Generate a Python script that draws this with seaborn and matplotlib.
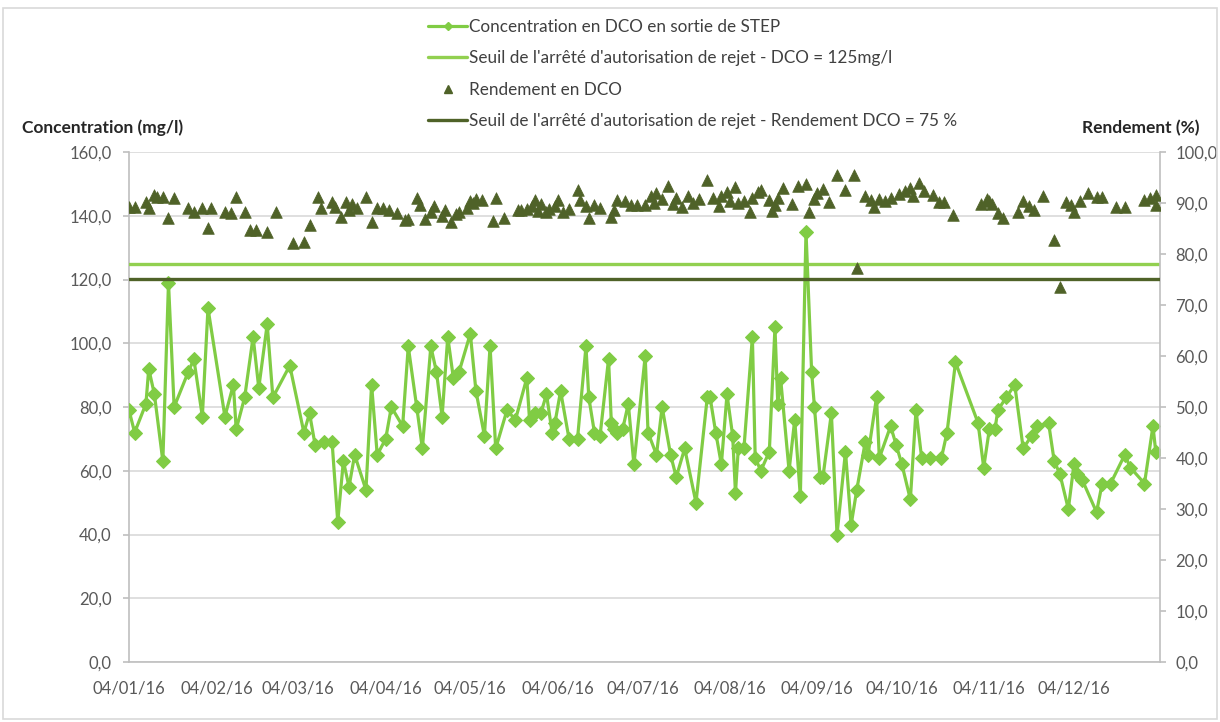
import matplotlib
matplotlib.use("Agg")
import matplotlib.pyplot as plt
import matplotlib.dates as mdates
from matplotlib.lines import Line2D
from matplotlib.patches import Rectangle
from matplotlib.ticker import FuncFormatter, MultipleLocator
import numpy as np
import pandas as pd
import seaborn as sns

# ---------------- data ----------------
start_date = "2016-01-04"
# concentration DCO (mg/l) : day offset from start_date, value
conc_days = [0, 2, 6, 7, 9, 12, 14, 16, 21, 23, 26, 28, 34, 37, 38, 41, 44, 46, 49, 51,
             57, 62, 64, 66, 69, 72, 74, 76, 78, 80, 84, 86, 88, 91, 93, 97, 99, 102, 104, 107,
             109, 111, 113, 115, 117, 121, 123, 126, 128, 130, 134, 137, 141, 142, 144, 146, 148, 150, 151, 153,
             156, 159, 162, 163, 165, 167, 170, 171, 172, 173, 175, 177, 179, 183, 184, 187, 189, 192, 194, 197,
             201, 205, 206, 208, 210, 212, 214, 215, 216, 218, 221, 222, 224, 227, 229, 230, 231, 234, 236, 238,
             240, 242, 243, 245, 246, 249, 251, 254, 256, 258, 261, 262, 265, 266, 270, 272, 274, 277, 279, 281,
             284, 288, 290, 293, 301, 303, 305, 307, 308, 311, 314, 317, 320, 322, 326, 328, 330, 333, 335, 336,
             338, 343, 345, 348, 353, 355, 360, 363, 364]
conc_vals = [79, 72, 81, 92, 84, 63, 119, 80, 91, 95, 77, 111, 77, 87, 73, 83, 102, 86, 106, 83,
             93, 72, 78, 68, 69, 69, 44, 63, 55, 65, 54, 87, 65, 70, 80, 74, 99, 80, 67, 99,
             91, 77, 102, 89, 91, 103, 85, 71, 99, 67, 79, 76, 89, 76, 78, 78, 84, 72, 75, 85,
             70, 70, 99, 83, 72, 71, 95, 75, 73, 72, 73, 81, 62, 96, 72, 65, 80, 65, 58, 67,
             50, 83, 83, 72, 62, 84, 71, 53, 67, 67, 102, 64, 60, 66, 105, 81, 89, 60, 76, 52,
             135, 91, 80, 58, 58, 78, 40, 66, 43, 54, 69, 65, 83, 64, 74, 68, 62, 51, 79, 64,
             64, 64, 72, 94, 75, 61, 73, 73, 79, 83, 87, 67, 71, 74, 75, 63, 59, 48, 62, 59,
             57, 47, 56, 56, 65, 61, 56, 74, 66]

# rendement DCO (%) : day offset from start_date, value
rend_days = [0, 2, 6, 7, 9, 10, 12, 14, 16, 21, 23, 26, 28, 29, 34, 36, 38, 41, 43, 45,
             49, 52, 58, 62, 64, 67, 68, 72, 73, 75, 77, 78, 79, 81, 84, 86, 88, 90, 92, 95,
             98, 99, 102, 103, 105, 107, 108, 111, 112, 114, 116, 117, 120, 121, 122, 123, 125, 129, 130, 133,
             138, 139, 141, 143, 144, 145, 146, 148, 149, 151, 152, 154, 156, 159, 160, 162, 163, 165, 167, 171,
             172, 173, 176, 178, 180, 183, 185, 186, 187, 189, 191, 193, 194, 196, 198, 200, 202, 205, 207, 209,
             210, 212, 213, 215, 216, 218, 220, 221, 223, 224, 227, 228, 229, 230, 232, 235, 237, 240, 241, 243,
             244, 246, 248, 251, 254, 257, 258, 261, 263, 264, 266, 268, 270, 273, 275, 277, 278, 280, 282, 285,
             287, 289, 292, 302, 304, 305, 306, 308, 310, 315, 317, 319, 321, 324, 328, 330, 332, 334, 335, 337,
             340, 343, 345, 350, 353, 360, 362, 364, 364]
rend_vals = [89.2, 89.2, 90.2, 89.0, 91.6, 91.2, 91.2, 87.0, 91.0, 89.0, 88.2, 89.0, 85.1, 89.0, 88.2, 88.0, 91.2, 88.2, 84.7, 84.7,
             84.3, 88.2, 82.2, 82.4, 85.7, 91.2, 89.0, 90.2, 89.2, 87.3, 90.2, 88.6, 89.8, 89.0, 91.2, 86.3, 89.0, 89.0, 88.6, 88.0,
             86.7, 86.9, 91.0, 89.6, 86.9, 88.2, 89.4, 87.5, 88.6, 86.3, 87.8, 88.2, 89.0, 90.4, 90.0, 90.8, 90.6, 86.5, 91.0, 87.1,
             88.6, 88.6, 88.8, 89.4, 90.6, 88.4, 89.8, 88.2, 88.8, 89.4, 90.6, 88.2, 88.8, 92.5, 90.6, 89.4, 87.1, 89.6, 89.0, 87.3,
             88.6, 90.6, 90.4, 89.6, 89.6, 89.6, 91.4, 90.0, 92.0, 90.8, 93.3, 89.8, 91.0, 89.2, 91.4, 90.0, 90.8, 94.5, 91.0, 89.4,
             91.4, 92.2, 90.4, 93.1, 90.0, 90.4, 88.2, 91.0, 92.2, 92.5, 90.6, 88.4, 89.6, 91.0, 92.9, 89.8, 93.3, 93.7, 88.2, 90.8,
             92.0, 92.7, 90.2, 95.5, 92.5, 95.5, 77.3, 91.4, 90.6, 89.2, 90.8, 90.4, 91.0, 91.8, 92.4, 92.9, 91.4, 93.9, 92.4, 91.6,
             90.2, 90.2, 87.6, 89.8, 90.8, 90.4, 89.8, 88.0, 87.1, 88.2, 90.4, 89.4, 88.6, 91.4, 82.7, 73.5, 90.2, 89.6, 88.2, 90.4,
             92.0, 91.2, 91.2, 89.2, 89.2, 90.6, 91.0, 91.6, 89.6]

seuil_dco = 125.0
seuil_rendement = 75.0

labels = ["Concentration en DCO en sortie de STEP",
          "Seuil de l'arrêté d'autorisation de rejet - DCO = 125mg/l",
          "Rendement en DCO",
          "Seuil de l'arrêté d'autorisation de rejet - Rendement DCO = 75 %"]
ylabel_left = "Concentration (mg/l)"
ylabel_right = "Rendement (%)"

# ---------------- styling ----------------
sns.set_theme(style="white")
plt.rcParams["font.family"] = ["Lato", "DejaVu Sans"]

c_conc = "#80CC44"
c_seuil1 = "#92D050"
c_rend = "#4F6228"
c_grid = "#D9D9D9"
c_axis = "#BFBFBF"
c_text = "#595959"
fs_tick = 12

base = pd.Timestamp(start_date)
conc_df = pd.DataFrame({"date": base + pd.to_timedelta(conc_days, unit="D"), "conc": conc_vals})
rend_df = pd.DataFrame({"date": base + pd.to_timedelta(rend_days, unit="D"), "rend": rend_vals})

fig = plt.figure(figsize=(12.2, 7.22), dpi=100)
ax = fig.add_axes([129 / 1220, 1 - 662 / 722, (1160 - 129) / 1220, (662 - 152) / 722])
ax2 = ax.twinx()

# thresholds
ax.axhline(seuil_dco, color=c_seuil1, lw=2.4, zorder=3)
ax2.axhline(seuil_rendement, color=c_rend, lw=2.4, zorder=3)

sns.lineplot(data=conc_df, x="date", y="conc", ax=ax, color=c_conc, lw=2.3,
             marker="D", markersize=7.5, markeredgecolor=c_conc, sort=False,
             estimator=None, zorder=4)
sns.scatterplot(data=rend_df, x="date", y="rend", ax=ax2, color=c_rend, marker="^",
                s=70, edgecolor=c_rend, linewidth=0.5, zorder=5)

# axes limits / ticks
ax.set_xlim(base, base + pd.Timedelta(days=365.5))
ax.set_ylim(0, 160)
ax2.set_ylim(0, 100)
ax.yaxis.set_major_locator(MultipleLocator(20))
ax2.yaxis.set_major_locator(MultipleLocator(10))
fmt = FuncFormatter(lambda v, p: f"{v:.1f}".replace(".", ","))
ax.yaxis.set_major_formatter(fmt)
ax2.yaxis.set_major_formatter(fmt)
ax.xaxis.set_major_locator(mdates.MonthLocator(bymonthday=4))
ax.xaxis.set_major_formatter(mdates.DateFormatter("%d/%m/%y"))

ax.grid(axis="y", color=c_grid, lw=1.2)
ax.grid(axis="x", visible=False)
ax2.grid(False)
ax.set_axisbelow(True)

for a in (ax, ax2):
    for s in a.spines.values():
        s.set_color(c_axis)
        s.set_linewidth(1.2)
    a.spines["top"].set_visible(False)
ax.spines["right"].set_visible(False)
ax2.spines["left"].set_visible(False)
ax2.spines["bottom"].set_visible(False)

ax.tick_params(axis="both", which="major", labelsize=fs_tick, labelcolor=c_text,
               color=c_axis, length=4.5, width=1.2, direction="out")
ax.tick_params(axis="x", pad=9)
ax.tick_params(axis="y", pad=8)
ax2.tick_params(axis="y", labelsize=fs_tick, labelcolor=c_text, color=c_axis,
                length=4, width=1.2, direction="out", pad=7)
ax.set_xlabel("")
ax.set_ylabel("")
ax2.set_ylabel("")

fig.text(22 / 1220, 1 - 128 / 722, ylabel_left, fontsize=12.5, fontweight="bold",
         color="#262626", ha="left", va="center")
fig.text(1200 / 1220, 1 - 128 / 722, ylabel_right, fontsize=12.5, fontweight="bold",
         color="#262626", ha="right", va="center")

# legend
handles = [
    Line2D([], [], color=c_conc, lw=2.3, marker="D", markersize=4.5),
    Line2D([], [], color=c_seuil1, lw=2.4),
    Line2D([], [], color=c_rend, lw=0, marker="^", markersize=6),
    Line2D([], [], color=c_rend, lw=2.4),
]
leg = fig.legend(handles, labels, loc="upper left", bbox_to_anchor=(428 / 1220, 1 - 19 / 722),
                 frameon=False, fontsize=12.3, handlelength=2.3, handletextpad=0.12,
                 labelspacing=0.9, borderpad=0, borderaxespad=0)
for t in leg.get_texts():
    t.set_color("#404040")

# outer chart border
fig.patches.append(Rectangle((3 / 1220, 3 / 722), 1214 / 1220, 711 / 722,
                             transform=fig.transFigure, fill=False,
                             edgecolor=c_grid, lw=1.2))

fig.savefig("out.png", dpi=100)
